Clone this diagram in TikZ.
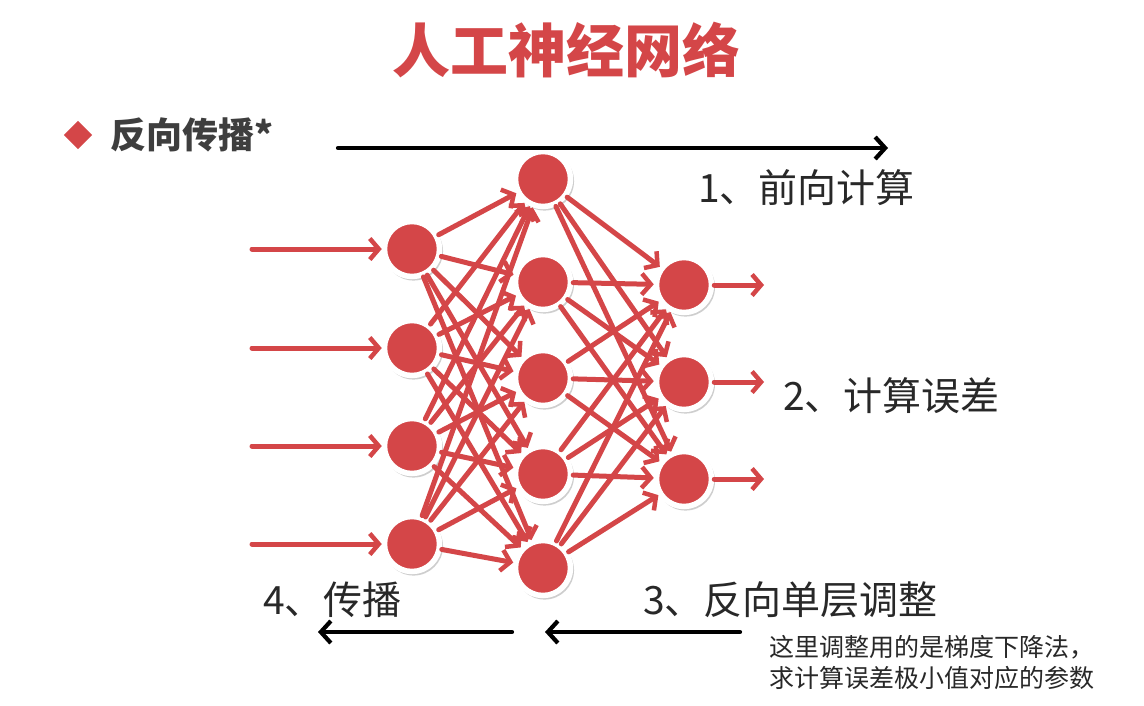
\documentclass[tikz,border=0pt]{standalone}
\usepackage{fontspec}
\newfontfamily\cjk{Noto Sans CJK SC}
\usetikzlibrary{arrows.meta,shadows}
\definecolor{nred}{RGB}{212,70,72}
\definecolor{ink}{RGB}{40,40,40}
\definecolor{bullet}{RGB}{62,62,62}
\begin{document}
\begin{tikzpicture}[x=1pt,y=-1pt,
  neuron/.style={circle,fill=nred,draw=white,line width=5.5pt,minimum size=55pt,inner sep=0pt,
    drop shadow={opacity=0.35,fill=black!55,shadow xshift=1.5pt,shadow yshift=-2pt,shadow scale=1.07}},
  link/.style={draw=nred,line width=5pt,line cap=round,
    -{Straight Barb[length=9pt,width=21pt,line width=4.5pt]}},
  flow/.style={draw=black,line width=4.2pt,line cap=round,
    -{Straight Barb[length=10pt,width=22pt,line width=4.2pt]}},
  label/.style={font=\cjk\fontsize{39}{44}\selectfont,text=ink,anchor=west,inner sep=0pt},
  note/.style={font=\cjk\fontsize{25}{31}\selectfont,text=ink,anchor=west,inner sep=0pt,align=left}
]
\fill[white] (0,0) rectangle (1144,705);
\useasboundingbox (0,0) rectangle (1144,705);

% heading and section bullet
\node[font=\cjk\bfseries\fontsize{58}{64}\selectfont,text=nred] (title) at (566,50) {人工神经网络};
\node[fill=nred,minimum size=20pt,inner sep=0pt,rotate=45] (dot) at (78,135) {};
\node[font=\cjk\bfseries\fontsize{36}{42}\selectfont,text=bullet,anchor=west,inner sep=0pt] (sec) at (110,135) {反向传播*};

% input layer
\foreach \i/\y in {1/249,2/348,3/446,4/544}{
  \node[neuron] (i\i) at (412,\y) {};
  \coordinate (s\i) at (252,\y);
}
% hidden layer
\foreach \j/\y in {1/179,2/282,3/378,4/474,5/568}{
  \node[neuron] (h\j) at (543,\y) {};
}
% output layer
\foreach \k/\y in {1/285,2/382,3/479}{
  \node[neuron] (o\k) at (684,\y) {};
  \coordinate (t\k) at (764,\y);
}

% connections
\foreach \i in {1,...,4}{
  \draw[link] (s\i) -- (i\i);
  \foreach \j in {1,...,5}{ \draw[link] (i\i) -- (h\j); }
}
\foreach \j in {1,...,5}{
  \foreach \k in {1,...,3}{ \draw[link] (h\j) -- (o\k); }
}
\foreach \k in {1,...,3}{ \draw[link] (o\k) -- (t\k); }

% phase arrows and labels
\coordinate (fa) at (338,148);
\coordinate (fb) at (888,148);
\draw[flow] (fa) -- (fb);
\node[label] (l1) at (698,188) {1、前向计算};
\node[label] (l2) at (783,396) {2、计算误差};
\node[label] (l3) at (643,600) {3、反向单层调整};
\node[label] (l4) at (263,600) {4、传播};
\coordinate (ba) at (740,632);
\coordinate (bb) at (545,632);
\coordinate (bc) at (512,632);
\coordinate (bd) at (318,632);
\draw[flow] (ba) -- (bb);
\draw[flow] (bc) -- (bd);

% remark
\node[note] (rem) at (769,663) {这里调整用的是梯度下降法，\\求计算误差极小值对应的参数};
\end{tikzpicture}
\end{document}
